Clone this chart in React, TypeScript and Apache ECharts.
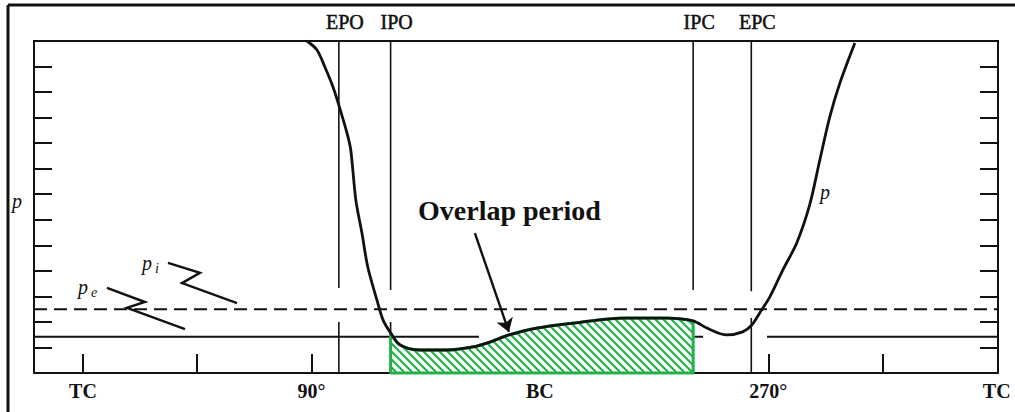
import React, { useEffect, useRef } from "react";
import * as echarts from "echarts";

// crank angle (deg) and cylinder pressure (arbitrary units, frame = 0..13)
const curveDeg = [88.2, 92.2, 95.3, 98.5, 100.8, 104.0, 105.5, 107.5, 109.9, 112.2, 115.8, 118.2, 121.2, 124.9, 132.7, 143.4, 153.6, 160.3, 167.8, 178.8, 196.9, 212.7, 230.0, 240.4, 245.8, 253.6, 259.9, 263.5, 266.6, 270.6, 275.7, 281.2, 286.3, 290.3, 294.2, 298.2, 304.1];
const curveP = [13.0, 12.65, 11.98, 11.2, 10.49, 9.4, 8.73, 6.77, 5.48, 4.15, 2.86, 2.08, 1.57, 1.10, 0.90, 0.90, 1.02, 1.21, 1.49, 1.76, 2.0, 2.15, 2.15, 2.04, 1.76, 1.49, 1.61, 1.88, 2.35, 2.98, 4.03, 5.09, 6.58, 8.34, 10.02, 11.35, 12.92];

const markerNames = ["EPO", "IPO", "IPC", "EPC"];
const markerDeg = [100.8, 121.2, 240.4, 263.3];
const markerUpperEnd = [3.33, 3.25, 3.25, 3.2];
const markerLowerStart = [2.0, 2.0, 2.0, 2.15];

const P_I = 2.5; // inlet pressure (dashed)
const P_E = 1.42; // exhaust pressure (solid)
const peSegments = [[-19.3, 156], [240.4, 244.3], [269.5, 360.5]];

const zigzagPe = [[9.45, 3.33], [24.4, 2.78], [17.3, 2.55], [40.2, 1.72]];
const zigzagPi = [[33.5, 4.31], [46.1, 3.92], [39.0, 3.52], [60.7, 2.74]];
const arrowFromTo = [[154.4, 5.48], [167.8, 1.61]];

const xTickValues = [0, 45, 90, 270, 315];
const xLabelValues = [0, 90, 180, 270, 360];
const xLabelTexts = ["TC", "90°", "BC", "270°", "TC"];

const X_MIN = -19.3;
const X_MAX = 360.5;
const GREEN = "#22b14c";
const BLACK = "#111";
const SERIF = "'Liberation Serif', 'Times New Roman', serif";

export default function App() {
  const ref = useRef<HTMLDivElement>(null);
  useEffect(() => {
    const chart = echarts.init(ref.current!, null, { renderer: "svg" });

    const tile = document.createElement("canvas");
    tile.width = 8;
    tile.height = 8;
    const ctx = tile.getContext("2d")!;
    ctx.strokeStyle = GREEN;
    ctx.lineWidth = 2.2;
    for (const k of [-8, 0, 8]) {
      ctx.beginPath();
      ctx.moveTo(-2, -2 + k);
      ctx.lineTo(10, 10 + k);
      ctx.stroke();
    }

    const curve = curveDeg.map((d, i) => [d, curveP[i]]);
    const ipo = markerDeg[1];
    const ipc = markerDeg[2];
    const hatch = curve.filter((p) => p[0] >= ipo && p[0] <= ipc);
    const pIpo = curveP[curveDeg.indexOf(ipo)];
    const pIpc = curveP[curveDeg.indexOf(ipc)];

    const segs: any[] = [];
    markerDeg.forEach((d, i) => {
      segs.push({ coords: [[d, 13], [d, markerUpperEnd[i]]], lineStyle: { width: 1.6 } });
      segs.push({ coords: [[d, markerLowerStart[i]], [d, 0]], lineStyle: { width: 1.6 } });
    });
    peSegments.forEach((s) => {
      segs.push({ coords: [[s[0], P_E], [s[1], P_E]], lineStyle: { width: 1.8 } });
    });
    segs.push({ coords: zigzagPe, lineStyle: { width: 2.4 } });
    segs.push({ coords: zigzagPi, lineStyle: { width: 2.4 } });

    const yAx = (pos: string) => ({
      type: "value",
      position: pos,
      min: 0,
      max: 13,
      interval: 1,
      axisLine: { show: true, onZero: false, lineStyle: { color: BLACK, width: 2 } },
      axisTick: { show: true, inside: true, length: 18, lineStyle: { color: BLACK, width: 2 } },
      axisLabel: { show: false },
      splitLine: { show: false },
    });

    const labelStroke = { textBorderColor: BLACK, textBorderWidth: 0.5 };

    chart.setOption({
      animation: false,
      backgroundColor: "#fff",
      grid: { left: 34, right: 17, top: 41, bottom: 39 },
      xAxis: [
        {
          type: "value",
          position: "bottom",
          min: X_MIN,
          max: X_MAX,
          axisLine: { show: true, onZero: false, lineStyle: { color: BLACK, width: 2 } },
          axisTick: { show: true, inside: true, length: 19, customValues: xTickValues, lineStyle: { color: BLACK, width: 2 } },
          axisLabel: {
            show: true,
            customValues: xLabelValues,
            margin: 8,
            formatter: (v: number) => xLabelTexts[xLabelValues.indexOf(v)] ?? "",
            fontFamily: SERIF,
            fontWeight: "bold",
            fontSize: 20,
            color: BLACK,
          },
          splitLine: { show: false },
        },
        {
          type: "value",
          position: "top",
          min: X_MIN,
          max: X_MAX,
          axisLine: { show: true, onZero: false, lineStyle: { color: BLACK, width: 2 } },
          axisTick: { show: false },
          axisLabel: {
            show: true,
            customValues: markerDeg,
            margin: 9,
            padding: [0, 0, 0, 12],
            formatter: (v: number) => {
              let best = 0;
              markerDeg.forEach((d, i) => {
                if (Math.abs(d - v) < Math.abs(markerDeg[best] - v)) best = i;
              });
              return markerNames[best];
            },
            fontFamily: SERIF,
            fontSize: 20,
            color: BLACK,
            ...labelStroke,
          },
          splitLine: { show: false },
        },
      ],
      yAxis: [yAx("left"), yAx("right")],
      series: [
        {
          type: "line",
          data: hatch,
          smooth: 0.3,
          symbol: "none",
          lineStyle: { color: GREEN, width: 3 },
          areaStyle: { color: { image: tile, repeat: "repeat" }, opacity: 1 },
          z: 3,
        },
        {
          type: "line",
          data: [[ipo, pIpo], [ipo, 0], [ipc, 0], [ipc, pIpc]],
          symbol: "none",
          clip: false,
          lineStyle: { color: GREEN, width: 3 },
          z: 4,
        },
        {
          type: "line",
          data: [[X_MIN, P_I], [X_MAX, P_I]],
          symbol: "none",
          lineStyle: { color: BLACK, width: 2, type: [13, 7] },
          z: 2,
        },
        {
          type: "lines",
          coordinateSystem: "cartesian2d",
          polyline: true,
          data: segs,
          lineStyle: { color: BLACK, width: 1.6, opacity: 1 },
          z: 2,
        },
        {
          type: "lines",
          coordinateSystem: "cartesian2d",
          data: [{ coords: arrowFromTo }],
          symbol: ["none", "arrow"],
          symbolSize: 13,
          lineStyle: { color: BLACK, width: 2.4, opacity: 1 },
          z: 7,
        },
        {
          type: "line",
          data: curve,
          smooth: 0.3,
          symbol: "none",
          lineStyle: { color: BLACK, width: 2.8 },
          z: 6,
        },
      ],
      graphic: [
        { type: "line", shape: { x1: 8, y1: 5, x2: 1015, y2: 5 }, style: { stroke: BLACK, lineWidth: 3 } },
        { type: "line", shape: { x1: 8, y1: 5, x2: 8, y2: 412 }, style: { stroke: BLACK, lineWidth: 3 } },
        { type: "text", x: 17, y: 201, style: { text: "p", font: `italic 20px ${SERIF}`, fill: BLACK, align: "center", verticalAlign: "middle" } },
        { type: "text", x: 825, y: 192, style: { text: "p", font: `italic 20px ${SERIF}`, fill: BLACK, align: "center", verticalAlign: "middle" } },
        { type: "text", x: 78, y: 287, style: { text: "p", font: `italic 20px ${SERIF}`, fill: BLACK, verticalAlign: "middle" } },
        { type: "text", x: 91, y: 292, style: { text: "e", font: `italic 14px ${SERIF}`, fill: BLACK, verticalAlign: "middle" } },
        { type: "text", x: 142, y: 263, style: { text: "p", font: `italic 20px ${SERIF}`, fill: BLACK, verticalAlign: "middle" } },
        { type: "text", x: 155, y: 268, style: { text: "i", font: `italic 14px ${SERIF}`, fill: BLACK, verticalAlign: "middle" } },
        { type: "text", x: 418, y: 210, style: { text: "Overlap period", font: `bold 28px ${SERIF}`, fill: BLACK, verticalAlign: "middle" } },
      ],
    });
    return () => chart.dispose();
  }, []);
  return <div ref={ref} style={{ position: "fixed", left: 0, top: 0, width: 1015, height: 412, background: "#fff" }} />;
}
